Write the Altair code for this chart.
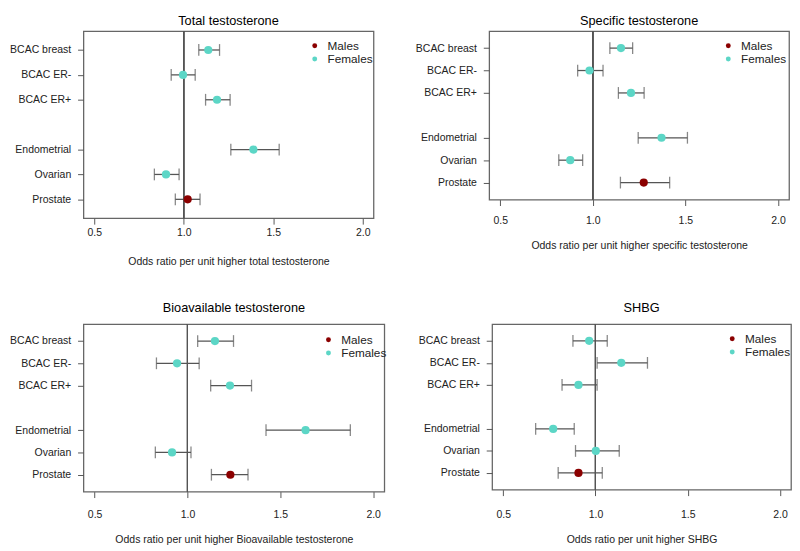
import altair as alt
import pandas as pd

categories = ["BCAC breast", "BCAC ER-", "BCAC ER+", "Endometrial", "Ovarian", "Prostate"]
sex = ["Females", "Females", "Females", "Females", "Females", "Males"]
y_domain = ["BCAC breast", "BCAC ER-", "BCAC ER+", " ", "Endometrial", "Ovarian", "Prostate"]
x_ticks = [0.5, 1.0, 1.5, 2.0]

total_or = [1.137, 0.996, 1.186, 1.389, 0.901, 1.022]
total_lo = [1.084, 0.930, 1.122, 1.263, 0.836, 0.953]
total_hi = [1.200, 1.064, 1.259, 1.533, 0.974, 1.091]

specific_or = [1.152, 0.982, 1.206, 1.371, 0.878, 1.275]
specific_lo = [1.092, 0.918, 1.138, 1.245, 0.816, 1.149]
specific_hi = [1.215, 1.055, 1.277, 1.511, 0.945, 1.415]

bio_or = [1.148, 0.944, 1.229, 1.636, 0.917, 1.231]
bio_lo = [1.055, 0.833, 1.125, 1.423, 0.827, 1.129]
bio_hi = [1.248, 1.063, 1.345, 1.877, 1.019, 1.326]

shbg_or = [0.966, 1.140, 0.908, 0.771, 1.002, 0.908]
shbg_lo = [0.878, 1.009, 0.819, 0.676, 0.892, 0.798]
shbg_hi = [1.064, 1.282, 1.009, 0.885, 1.129, 1.037]

FONT = "Liberation Sans"
F_COL = "#5cd6c6"
M_COL = "#8b0000"


def panel(title, ors, los, his, xtitle, w, h, lx, ly, lab_pad, title_pad, t_off):
    df = pd.DataFrame({"cat": categories, "sex": sex, "or": ors, "lo": los, "hi": his})
    base = alt.Chart(df)
    xs = alt.Scale(domain=[0.44, 2.06], nice=False, zero=False)
    ys = alt.Scale(type="point", domain=y_domain, padding=0.76)
    xaxis = alt.Axis(values=x_ticks, format=".1f", title=xtitle, grid=False, domain=False,
                     tickSize=6, tickColor="#555", labelPadding=lab_pad, titlePadding=title_pad,
                     labelFont=FONT, labelFontSize=10.7, labelColor="#222",
                     titleFont=FONT, titleFontSize=10.7, titleFontWeight="normal", titleColor="#222")
    yaxis = alt.Axis(values=categories, title=None, grid=False, domain=False, tickSize=6,
                     tickColor="#555", labelPadding=7, labelFont=FONT, labelFontSize=10.7,
                     labelColor="#222")
    ref = base.mark_rule(color="#555", strokeWidth=1.1).encode(x=alt.datum(1.0, scale=xs))
    bars = base.mark_rule(color="#555", strokeWidth=1.3).encode(
        x=alt.X("lo:Q", scale=xs, axis=xaxis),
        x2="hi:Q",
        y=alt.Y("cat:N", scale=ys, axis=yaxis, sort=y_domain),
    )
    cap_lo = base.mark_tick(color="#555", thickness=1.3, size=12).encode(
        x=alt.X("lo:Q", scale=xs), y=alt.Y("cat:N", scale=ys, sort=y_domain))
    cap_hi = base.mark_tick(color="#555", thickness=1.3, size=12).encode(
        x=alt.X("hi:Q", scale=xs), y=alt.Y("cat:N", scale=ys, sort=y_domain))
    pts = base.mark_circle(size=70, opacity=1).encode(
        x=alt.X("or:Q", scale=xs),
        y=alt.Y("cat:N", scale=ys, sort=y_domain),
        color=alt.Color("sex:N",
                        scale=alt.Scale(domain=["Males", "Females"], range=[M_COL, F_COL]),
                        legend=alt.Legend(title=None, orient="none", legendX=lx, legendY=ly,
                                          symbolType="circle", symbolSize=25, symbolStrokeWidth=0,
                                          labelFont=FONT, labelFontSize=12, labelColor="#222",
                                          labelOffset=7, rowPadding=1.5, padding=0)),
    )
    return alt.layer(ref, bars, cap_lo, cap_hi, pts).properties(
        width=w, height=h,
        title=alt.TitleParams(title, font=FONT, fontSize=13, fontWeight="normal",
                              color="#000", anchor="middle", offset=t_off),
    )


p1 = panel("Total testosterone", total_or, total_lo, total_hi,
           "Odds ratio per unit higher total testosterone", 296, 191, 230, 9, 4, 20, 3)
p2 = panel("Specific testosterone", specific_or, specific_lo, specific_hi,
           "Odds ratio per unit higher specific testosterone", 306, 172, 238, 9, 10, 16, 3)
p3 = panel("Bioavailable testosterone", bio_or, bio_lo, bio_hi,
           "Odds ratio per unit higher Bioavailable testosterone", 307, 171, 244, 10, 12, 16, 9)
p4 = panel("SHBG", shbg_or, shbg_lo, shbg_hi,
           "Odds ratio per unit higher SHBG", 305, 169, 239, 9, 14, 16, 9)

row1 = alt.hconcat(p1, p2, spacing=40).resolve_scale(color="independent", x="independent", y="independent")
row2 = alt.hconcat(p3, p4, spacing=29).resolve_scale(color="independent", x="independent", y="independent")

chart = alt.vconcat(row1, row2, spacing=33).resolve_scale(
    color="independent", x="independent", y="independent"
).properties(
    padding={"left": 0, "top": 0, "right": 0, "bottom": 0},
    background="white",
).configure_view(stroke="#666666", strokeWidth=1.3)

chart.save("out.html", embed_options={"renderer": "svg", "actions": False})
